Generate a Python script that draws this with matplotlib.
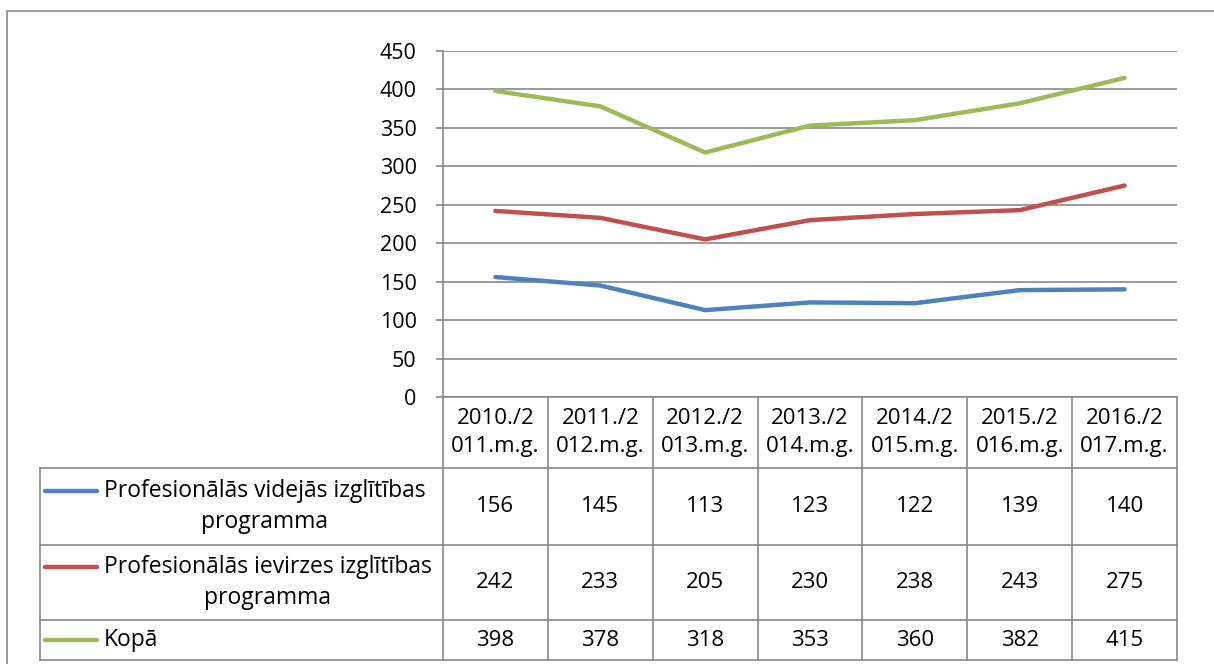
import matplotlib
matplotlib.use("Agg")
import matplotlib.pyplot as plt

# --- Data ---------------------------------------------------------------
years = ["2010./2\n011.m.g.", "2011./2\n012.m.g.", "2012./2\n013.m.g.",
         "2013./2\n014.m.g.", "2014./2\n015.m.g.", "2015./2\n016.m.g.",
         "2016./2\n017.m.g."]
series_names = ["Profesionālās videjās izglītības\nprogramma",
                "Profesionālās ievirzes izglītības\nprogramma",
                "Kopā"]
videjas = [156, 145, 113, 123, 122, 139, 140]
ievirzes = [242, 233, 205, 230, 238, 243, 275]
kopa = [398, 378, 318, 353, 360, 382, 415]
yticks = [0, 50, 100, 150, 200, 250, 300, 350, 400, 450]

series = [videjas, ievirzes, kopa]
colors = ["#4F81BD", "#C0504D", "#9BBB59"]

plt.rcParams["font.family"] = ["Open Sans", "DejaVu Sans"]
W, H = 1214, 664
FS = 16
FS_TICK = 15.5
FS_LEG = 16.5
LS = 1.42
GRID = "#898989"

fig = plt.figure(figsize=(W / 100, H / 100), dpi=100)
fig.set_facecolor("white")

# plot area in pixels
px0, px1, py0, py1 = 443, 1177, 51, 397


def fx(p):
    return p / W


def fy(p):
    return 1 - p / H


ax = fig.add_axes([fx(px0), fy(py1), fx(px1 - px0), fy(py0) - fy(py1)])
xs = list(range(len(years)))
for vals, c in zip(series, colors):
    ax.plot(xs, vals, color=c, linewidth=3.2, solid_capstyle="round", zorder=3)
ax.set_xlim(-0.5, len(years) - 0.5)
ax.set_ylim(0, 450)
ax.set_yticks(yticks)
ax.set_xticks([])
ax.grid(axis="y", color=GRID, linewidth=1.2)
for s in ["top", "right", "bottom"]:
    ax.spines[s].set_visible(False)
ax.spines["left"].set_color(GRID)
ax.spines["left"].set_linewidth(1.2)
ax.tick_params(axis="y", direction="out", length=5, color=GRID,
               labelsize=FS_TICK, pad=14, width=1.2)

# --- Overlay in pixel coordinates for the data table --------------------
ov = fig.add_axes([0, 0, 1, 1], zorder=5)
ov.set_xlim(0, W)
ov.set_ylim(H, 0)
ov.axis("off")
ov.patch.set_alpha(0)

# outer chart border (right and bottom run off the picture)
ov.plot([7, 7, W + 5], [H + 5, 11, 11], color=GRID, linewidth=1.2)

ncol = len(years)
col_w = (px1 - px0) / ncol
col_edges = [px0 + i * col_w for i in range(ncol + 1)]
leg_x0 = 40
row_edges = [py1, 468, 545, 620, 660]

lc = GRID
lw = 1.2
# header row borders
for xe in col_edges:
    ov.plot([xe, xe], [row_edges[0], row_edges[-1]], color=lc, linewidth=lw)
ov.plot([leg_x0, leg_x0], [row_edges[1], row_edges[-1]], color=lc, linewidth=lw)
ov.plot([px0, px1], [row_edges[0], row_edges[0]], color=lc, linewidth=lw)
for ye in row_edges[1:]:
    ov.plot([leg_x0, px1], [ye, ye], color=lc, linewidth=lw)

# header texts
for i, lab in enumerate(years):
    cx = (col_edges[i] + col_edges[i + 1]) / 2
    ov.text(cx, (row_edges[0] + row_edges[1]) / 2, lab, ha="center",
            va="center", fontsize=FS, linespacing=LS)

# data rows
for r, (name, vals, c) in enumerate(zip(series_names, series, colors)):
    top, bot = row_edges[r + 1], row_edges[r + 2]
    cy = (top + bot) / 2
    for i, v in enumerate(vals):
        cx = (col_edges[i] + col_edges[i + 1]) / 2
        ov.text(cx, cy, str(v), ha="center", va="center", fontsize=FS)
    ov.text(104, cy, name, ha="left", va="center", fontsize=FS_LEG,
            multialignment="center", linespacing=LS)
    nlines = name.count("\n") + 1
    ly = cy - (nlines - 1) * 16
    ov.plot([45, 97], [ly, ly], color=c, linewidth=3.2, solid_capstyle="round")

fig.savefig("out.png", dpi=100)
